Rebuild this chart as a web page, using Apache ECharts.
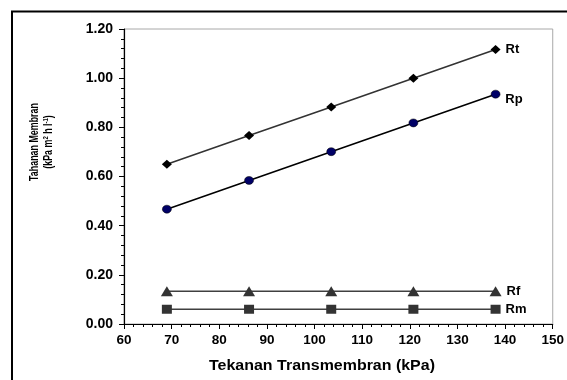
<!DOCTYPE html>
<html><head><meta charset="utf-8">
<script src="https://cdn.jsdelivr.net/npm/echarts@6/dist/echarts.min.js"></script>
<style>html,body{margin:0;padding:0;background:#fff}#c{width:567px;height:380px}</style>
</head><body><div id="c"></div>
<script>
const pressure = [69, 86.25, 103.5, 120.75, 138];
const Rt = [0.65, 0.767, 0.883, 1.0, 1.117];
const Rp = [0.467, 0.584, 0.701, 0.818, 0.935];
const Rf = [0.133, 0.133, 0.133, 0.133, 0.133];
const Rm = [0.06, 0.06, 0.06, 0.06, 0.06];
const seriesNames = ['Rt', 'Rp', 'Rf', 'Rm'];
const xTitle = 'Tekanan Transmembran (kPa)';
const yTitle1 = 'Tahanan Membran';

const FONT = '"Liberation Sans", Arial, sans-serif';
function pairs(ys){ return ys.map((y,i)=>[pressure[i], y]); }
function mk(name, ys, opts){
  const d = pairs(ys);
  const last = d.length-1;
  const data = d.map((p,i)=> i===last ? {value:p, label:{show:true, formatter:name, position:'right', distance:5, offset:opts.lo||[0,0], fontFamily:FONT, fontWeight:'bold', fontSize:13, color:'#000'}} : p);
  return {
    type:'line', name, data, symbol:opts.symbol, symbolSize:opts.size,
    lineStyle:{color:opts.lc, width:1.6},
    itemStyle:{color:opts.fc, borderColor:opts.bc||opts.fc, borderWidth:opts.bw||0},
    emphasis:{disabled:true}, animation:false, z:opts.z||2
  };
}
const chart = echarts.init(document.getElementById('c'), null, {renderer:'canvas'});
chart.setOption({
  animation:false,
  grid:{left:124, right:10, top:29, bottom:56, show:true, borderColor:'#a8a8a8', borderWidth:1, backgroundColor:'transparent'},
  xAxis:{type:'value', min:60, max:150, interval:10,
    axisLine:{lineStyle:{color:'#000', width:1.2}},
    axisTick:{length:5, lineStyle:{color:'#000'}},
    minorTick:{show:true, splitNumber:5, length:3, lineStyle:{color:'#000'}},
    splitLine:{show:false},
    axisLabel:{fontFamily:FONT, fontWeight:'bold', fontSize:13.5, color:'#000', margin:9}},
  yAxis:{type:'value', min:0, max:1.2, interval:0.2,
    axisLine:{show:true, lineStyle:{color:'#000', width:1.2}},
    axisTick:{show:true, length:5, lineStyle:{color:'#000'}},
    minorTick:{show:true, splitNumber:5, length:3, lineStyle:{color:'#000'}},
    splitLine:{show:false},
    axisLabel:{fontFamily:FONT, fontWeight:'bold', fontSize:14, color:'#000', margin:11, formatter:v=>v.toFixed(2)}},
  graphic:[
    {type:'rect', shape:{x:12, y:11.5, width:620, height:420}, style:{fill:'none', stroke:'#000', lineWidth:2}, silent:true},
    {type:'text', x:322, y:366, scaleX:1.14, style:{text:xTitle, font:'bold 14px '+FONT, fill:'#000', align:'center', verticalAlign:'middle'}},
    {type:'text', x:42, y:142, rotation:Math.PI/2, scaleX:0.74, style:{
      text:yTitle1+'\n{n|(kPa m}{s|2}{n| h l}{s|-1}{n|)}',
      rich:{n:{font:'bold 12px '+FONT, fill:'#000', lineHeight:14}, s:{font:'bold 8px '+FONT, fill:'#000', verticalAlign:'top', lineHeight:14, padding:[0,0,6,0]}},
      font:'bold 12px '+FONT, fill:'#000', align:'center', verticalAlign:'middle', lineHeight:14}}
  ],
  series:[
    mk(seriesNames[0], Rt, {symbol:'diamond', size:[10,9], lc:'#333', fc:'#000', z:3}),
    mk(seriesNames[1], Rp, {symbol:'circle', size:[9,8], lc:'#000', fc:'#000066', bc:'#000', bw:0.5, lo:[0,5], z:3}),
    mk(seriesNames[2], Rf, {symbol:'triangle', size:[12,10], lc:'#404040', fc:'#333'}),
    mk(seriesNames[3], Rm, {symbol:'rect', size:[10,9], lc:'#404040', fc:'#333'})
  ]
});
</script></body></html>
